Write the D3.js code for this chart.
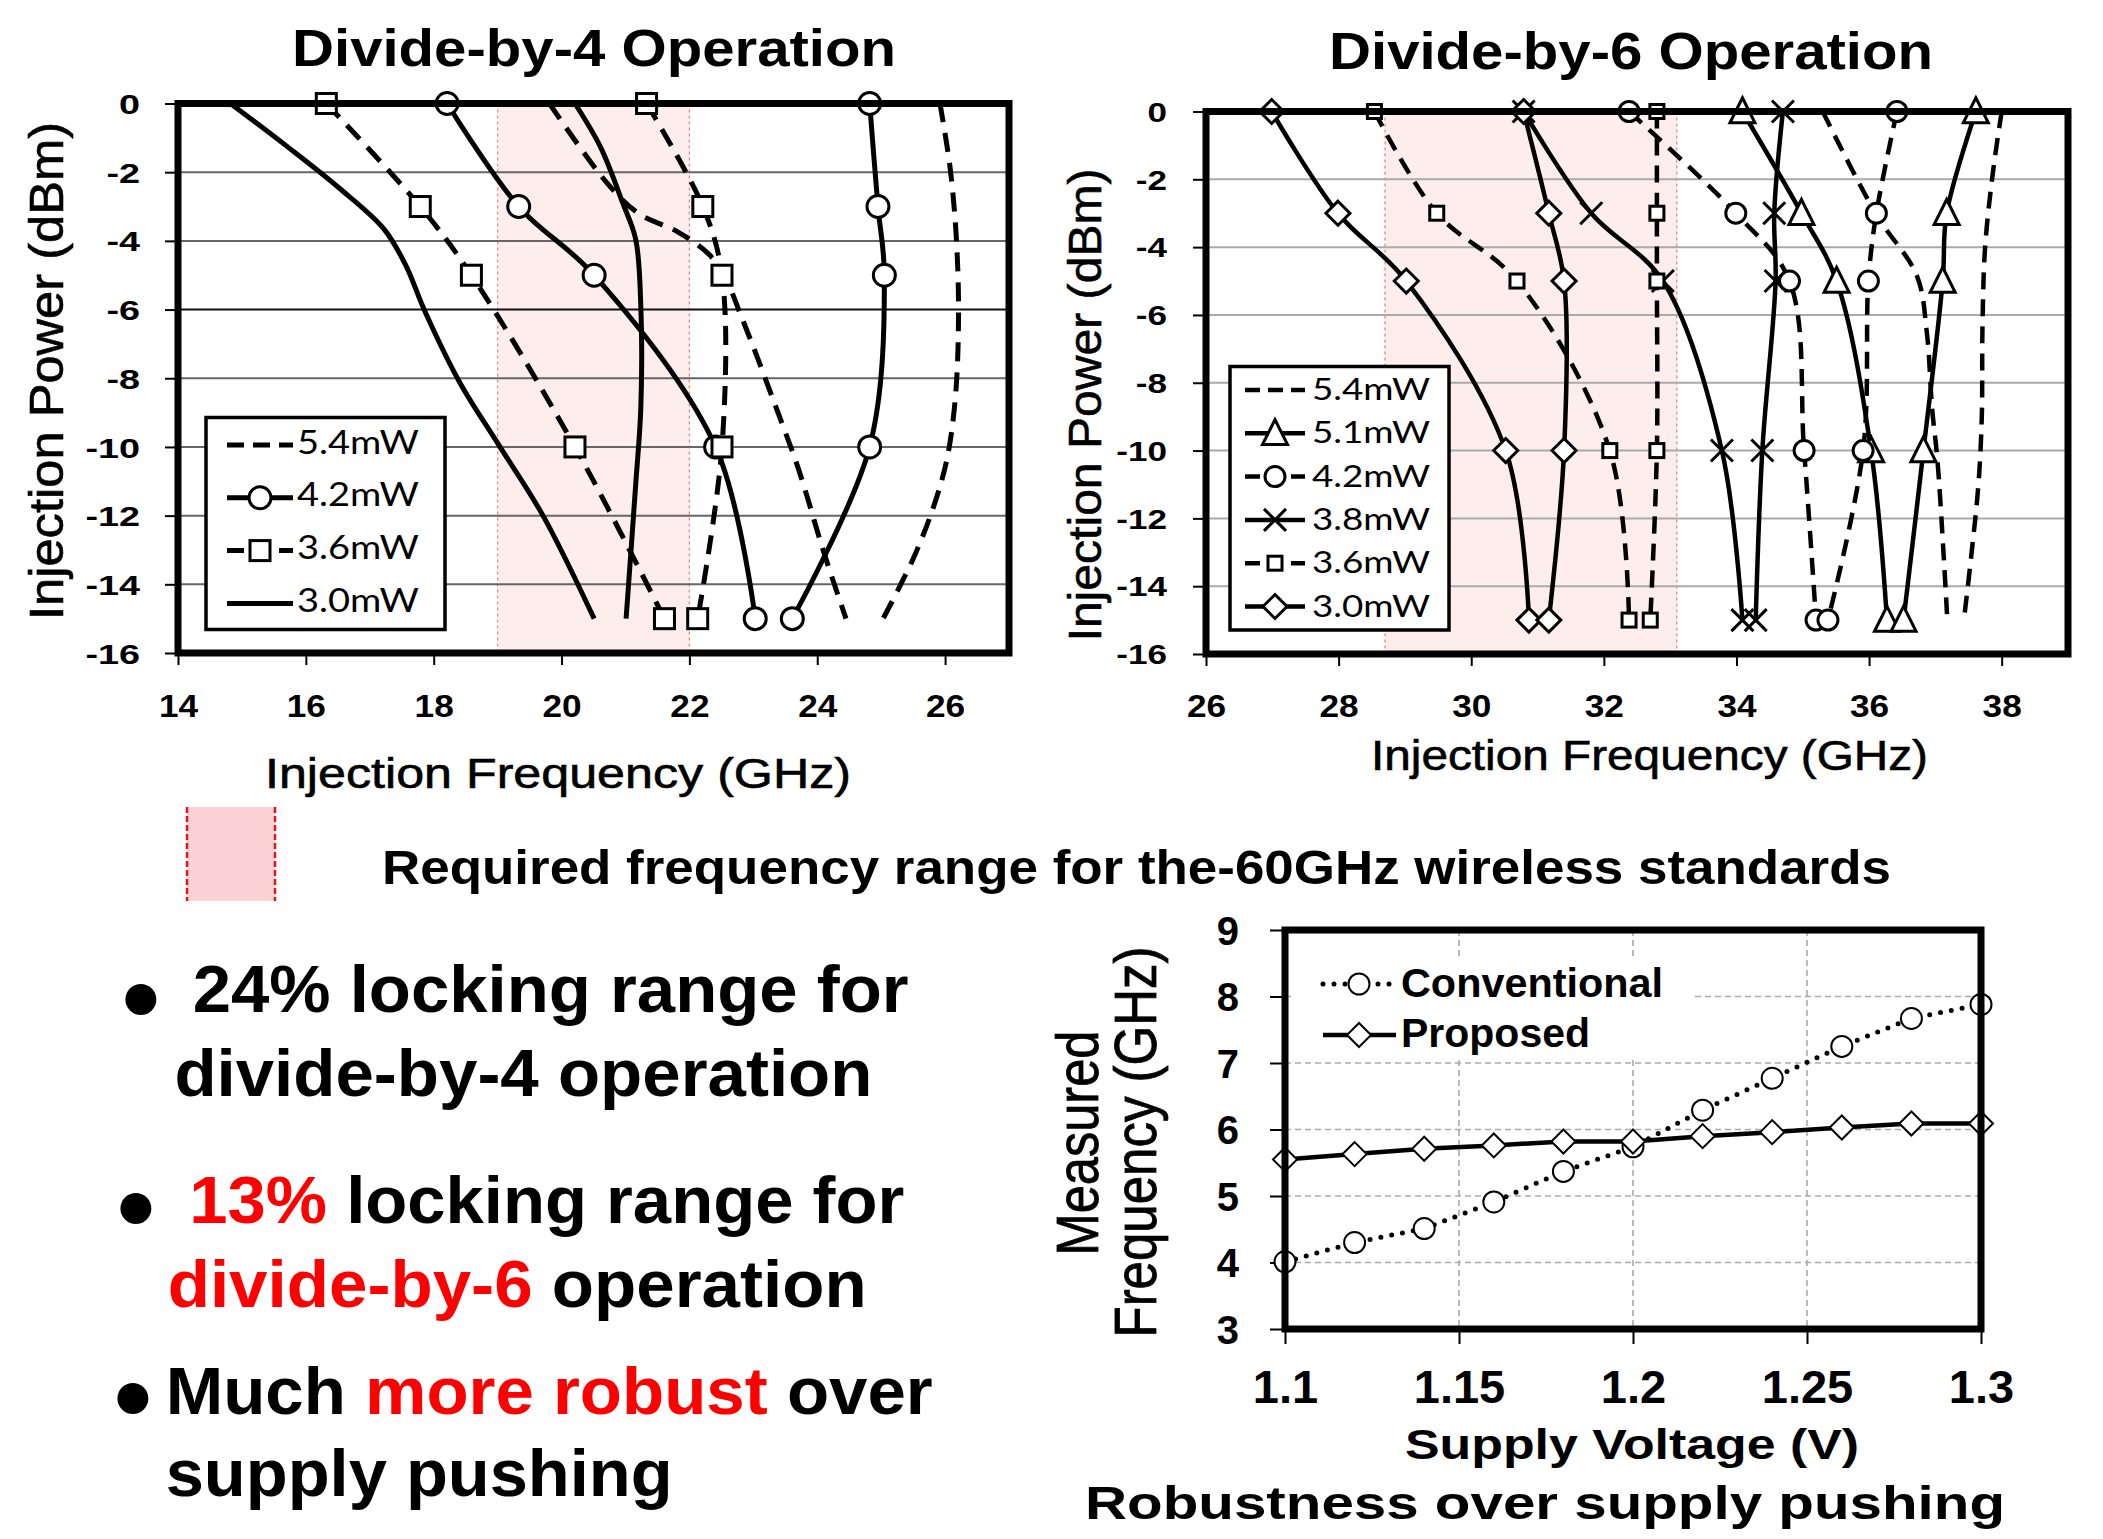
<!DOCTYPE html>
<html><head><meta charset="utf-8">
<script src="https://cdn.jsdelivr.net/npm/d3@7"></script>
<style>body{margin:0;background:#fff} svg{display:block}</style>
</head><body>
<script>
// ================= DATA =================
const powerTicks = [0,-2,-4,-6,-8,-10,-12,-14,-16];
const markerPower = [0,-3,-5,-10,-15];
const div4FreqTicks = [14,16,18,20,22,24,26];
const div6FreqTicks = [26,28,30,32,34,36,38];
const div4Band = [19, 22];
const div6Band = [28.7, 33.1];

// Divide-by-4 (GHz vs dBm)
const d4_54_lowF  = [19.81,20.71,21.21,21.81,22.31,22.56,22.81,23.06,23.36,23.71,24.10,24.45];
const d4_54_lowP  = [0,-2.31,-3.21,-3.73,-4.40,-5.07,-6.19,-7.38,-8.87,-10.66,-13.05,-15];
const d4_54_highF = [25.92,26.08,26.18,26.21,26.16,26.03,25.82,25.50,25.03];
const d4_54_highP = [0,-1.89,-4.04,-6.31,-8.58,-10.35,-11.74,-13.26,-15];
const d4_42_lowF  = [18.21,19.33,20.51,22.41,23.03];
const d4_42_highF = [24.82,24.95,25.05,24.82,23.61];
const d4_36_lowF  = [16.32,17.79,18.59,20.21,21.61];
const d4_36_highF = [21.33,22.21,22.51,22.51,22.13];
const d4_30_lowF  = [14.82,15.72,16.52,17.22,17.56,17.86,18.41,19.01,19.71,20.51];
const d4_30_lowP  = [0,-1.27,-2.46,-3.65,-4.70,-6.04,-8.13,-9.92,-12.0,-15];
const d4_30_highF = [20.21,20.61,20.96,21.16,21.24,21.24,21.16,21.01];
const d4_30_highP = [0,-1.27,-2.91,-3.95,-5.89,-8.87,-11.1,-15];

// Divide-by-6 (GHz vs dBm)
const d6_54_lowF  = [35.30,36.11,36.72,36.87,36.95,37.03,37.13,37.18];
const d6_54_lowP  = [0,-3.04,-4.84,-6.50,-8.75,-10.26,-13.26,-15];
const d6_54_highF = [38.0,37.87,37.75,37.71,37.70,37.65,37.55,37.43];
const d6_54_highP = [0,-1.76,-4.0,-6.37,-9.0,-10.98,-12.95,-15];
const d6_51_lowF  = [34.09,34.98,35.51,36.03,36.27];
const d6_51_highF = [37.61,37.17,37.11,36.82,36.52];
const d6_42_lowF  = [32.38,33.99,34.80,35.02,35.20];
const d6_42_highF = [36.42,36.11,35.99,35.91,35.38];
const d6_38_lowF  = [30.79,31.81,32.89,33.78,34.09];
const d6_38_highF = [34.70,34.57,34.59,34.39,34.29];
const d6_36_lowF  = [28.54,29.48,30.69,32.09,32.38];
const d6_36_highF = [32.80,32.80,32.80,32.80,32.70];
const d6_30_lowF  = [26.99,27.99,29.02,30.52,30.87];
const d6_30_highF = [30.79,31.17,31.40,31.40,31.17];

// Supply pushing
const supplyV   = [1.10,1.12,1.14,1.16,1.18,1.20,1.22,1.24,1.26,1.28,1.30];
const convFreq  = [4.01,4.30,4.51,4.91,5.37,5.74,6.29,6.77,7.25,7.67,7.88];
const propFreq  = [5.55,5.63,5.71,5.76,5.82,5.82,5.90,5.96,6.03,6.09,6.09];
const voltTicks = [1.1,1.15,1.2,1.25,1.3];
const measTicks = [3,4,5,6,7,8,9];

// ================= DRAW =================
const FONT = "'Liberation Sans', Arial, Helvetica, sans-serif";
const LFONT = "Lato, 'Open Sans', sans-serif";
const zip = (a,b) => a.map((v,i)=>[v,b[i]]);
const svg = d3.select("body").append("svg").attr("width",2103).attr("height",1539);
svg.append("rect").attr("width",2103).attr("height",1539).attr("fill","#fff");

function marker(g, type, cx, cy, s, sw) {
  const st = el => el.attr("fill","#fff").attr("stroke","#000").attr("stroke-width",sw);
  if (type==="circle") st(g.append("circle").attr("cx",cx).attr("cy",cy).attr("r",s/2));
  else if (type==="square") st(g.append("rect").attr("x",cx-s/2).attr("y",cy-s/2).attr("width",s).attr("height",s));
  else if (type==="triangle") st(g.append("path").attr("d",`M${cx},${cy-s*0.55}L${cx+s/2},${cy+s*0.45}L${cx-s/2},${cy+s*0.45}Z`));
  else if (type==="diamond") st(g.append("path").attr("d",`M${cx},${cy-s/2}L${cx+s/2},${cy}L${cx},${cy+s/2}L${cx-s/2},${cy}Z`));
  else if (type==="cross") g.append("path").attr("d",`M${cx-s/2},${cy-s/2}L${cx+s/2},${cy+s/2}M${cx+s/2},${cy-s/2}L${cx-s/2},${cy+s/2}`)
      .attr("stroke","#000").attr("stroke-width",sw).attr("fill","none");
}

function injChart(c) {
  const g = svg.append("g");
  const x = d3.scaleLinear().domain(c.xDomain).range([c.left, c.right]);
  const y = d3.scaleLinear().domain([-16,0]).range([c.bottom, c.top]);
  // band
  g.append("rect").attr("x",x(c.band[0])).attr("y",c.top).attr("width",x(c.band[1])-x(c.band[0]))
    .attr("height",c.bottom-c.top).attr("fill","#fdeded");
  c.band.forEach(b => g.append("line").attr("x1",x(b)).attr("x2",x(b)).attr("y1",c.top).attr("y2",c.bottom)
    .attr("stroke","#f08585").attr("stroke-width",1.3).attr("stroke-dasharray","3,3"));
  // grid
  g.selectAll("line.grid").data(powerTicks.filter(t=>t>-16&&t<0)).join("line").attr("class","grid")
    .attr("x1",c.left).attr("x2",c.right).attr("y1",d=>y(d)).attr("y2",d=>y(d))
    .attr("stroke",d=>c.gridColor(d)).attr("stroke-width",2);
  // axes
  const ay = g.append("g").attr("transform",`translate(${c.left},0)`)
    .call(d3.axisLeft(y).tickValues(powerTicks).tickSize(13).tickFormat(d=>String(d)));
  const ax = g.append("g").attr("transform",`translate(0,${c.bottom})`)
    .call(d3.axisBottom(x).tickValues(c.xTicks).tickSize(12).tickFormat(d=>String(d)));
  [ay,ax].forEach(a=>{ a.select(".domain").remove(); a.selectAll("line").attr("stroke","#000").attr("stroke-width",2); });
  ay.selectAll("text").attr("font-family",FONT).attr("font-weight","bold").attr("font-size",c.yLabFont)
    .attr("fill","#000").attr("x",-c.yLabGap/c.yLabScale).attr("dy","0.36em").attr("transform",`scale(${c.yLabScale},1)`);
  ax.selectAll("text").attr("font-family",FONT).attr("font-weight","bold").attr("font-size",32)
    .attr("fill","#000").attr("dy",null).attr("y",c.xLabY).attr("transform","scale(1.1,1)");
  // series
  const line = d3.line().x(d=>x(d[0])).y(d=>y(d[1])).curve(d3.curveCatmullRom.alpha(0.5));
  c.series.forEach(s=>{
    s.branches.forEach(br=>{
      g.append("path").attr("d",line(br)).attr("fill","none").attr("stroke","#000")
        .attr("stroke-width",c.lw).attr("stroke-dasharray",s.dash?c.dash:null);
    });
  });
  c.series.forEach(s=>{
    if (!s.marker) return;
    s.branches.forEach(br=>br.forEach(p=>marker(g,s.marker,x(p[0]),y(p[1]),c.msize[s.marker],3)));
  });
  // border
  g.append("rect").attr("x",c.left).attr("y",c.top).attr("width",c.right-c.left).attr("height",c.bottom-c.top)
    .attr("fill","none").attr("stroke","#000").attr("stroke-width",7);
  // titles
  g.append("text").attr("x",c.titleX).attr("y",c.titleY).attr("font-family",FONT).attr("font-weight","bold")
    .attr("font-size",52).attr("textLength",c.titleW).attr("lengthAdjust","spacingAndGlyphs").text(c.title);
  g.append("text").attr("x",c.xtX).attr("y",c.xtY).attr("font-family",FONT).attr("font-size",42)
    .attr("stroke","#000").attr("stroke-width",0.6)
    .attr("textLength",c.xtW).attr("lengthAdjust","spacingAndGlyphs").text("Injection Frequency (GHz)");
  g.append("text").attr("transform",`translate(${c.ytX},${c.ytY}) rotate(-90)`).attr("text-anchor","middle")
    .attr("font-family",FONT).attr("font-size",c.ytFont).attr("stroke","#000").attr("stroke-width",0.6)
    .attr("textLength",c.ytW).attr("lengthAdjust","spacingAndGlyphs").text("Injection Power (dBm)");
  // legend
  const L = c.legend;
  g.append("rect").attr("x",L.x).attr("y",L.y).attr("width",L.w).attr("height",L.h)
    .attr("fill","#fff").attr("stroke","#000").attr("stroke-width",3.5);
  c.legendOrder.forEach((name,i)=>{
    const s = c.series.find(d=>d.name===name);
    const ly = L.rowY0 + i*L.rowDy;
    g.append("line").attr("x1",L.lx0).attr("x2",L.lx1).attr("y1",ly).attr("y2",ly).attr("stroke","#000")
      .attr("stroke-width",c.lw).attr("stroke-dasharray",s.dash?L.dash:null);
    if (s.marker) marker(g,s.marker,(L.lx0+L.lx1)/2,ly,c.msize[s.marker],3);
    g.append("text").attr("x",L.tx).attr("y",ly+L.tdy).attr("font-family",LFONT).attr("font-size",L.font)
      .attr("textLength",L.tw).attr("lengthAdjust","spacingAndGlyphs").text(name);
  });
}

injChart({
  xDomain:[14,27], left:178, right:1009, top:103.5, bottom:653, band:div4Band, xTicks:div4FreqTicks,
  gridColor:d=> d===-6 ? "#111" : "#666", yLabGap:38, yLabFont:28, yLabScale:1.35, xLabY:64, lw:5, dash:"19,11",
  msize:{circle:22, square:20},
  series:[
    {name:"5.4mW", dash:true, marker:null, branches:[zip(d4_54_lowF,d4_54_lowP), zip(d4_54_highF,d4_54_highP)]},
    {name:"4.2mW", dash:false, marker:"circle", branches:[zip(d4_42_lowF,markerPower), zip(d4_42_highF,markerPower)]},
    {name:"3.6mW", dash:true, marker:"square", branches:[zip(d4_36_lowF,markerPower), zip(d4_36_highF,markerPower)]},
    {name:"3.0mW", dash:false, marker:null, branches:[zip(d4_30_lowF,d4_30_lowP), zip(d4_30_highF,d4_30_highP)]}
  ],
  legendOrder:["5.4mW","4.2mW","3.6mW","3.0mW"],
  legend:{x:206,y:417.5,w:239,h:212,rowY0:445,rowDy:52.8,lx0:227,lx1:293,tx:297,tdy:8.5,font:33,tw:122,dash:"17,9"},
  title:"Divide-by-4 Operation", titleX:292, titleY:66, titleW:604,
  xtX:265, xtY:788, xtW:586, ytX:63, ytY:371, ytW:498, ytFont:48
});

injChart({
  xDomain:[26,39], left:1206, right:2068, top:111.5, bottom:654, band:div6Band, xTicks:div6FreqTicks,
  gridColor:d=>"#aaa", yLabGap:39, yLabFont:27, yLabScale:1.3, xLabY:63, lw:4.5, dash:"17,10",
  msize:{circle:20, square:14, triangle:25, diamond:24, cross:22},
  series:[
    {name:"5.4mW", dash:true, marker:null, branches:[zip(d6_54_lowF,d6_54_lowP), zip(d6_54_highF,d6_54_highP)]},
    {name:"5.1mW", dash:false, marker:"triangle", branches:[zip(d6_51_lowF,markerPower), zip(d6_51_highF,markerPower)]},
    {name:"4.2mW", dash:true, marker:"circle", branches:[zip(d6_42_lowF,markerPower), zip(d6_42_highF,markerPower)]},
    {name:"3.8mW", dash:false, marker:"cross", branches:[zip(d6_38_lowF,markerPower), zip(d6_38_highF,markerPower)]},
    {name:"3.6mW", dash:true, marker:"square", branches:[zip(d6_36_lowF,markerPower), zip(d6_36_highF,markerPower)]},
    {name:"3.0mW", dash:false, marker:"diamond", branches:[zip(d6_30_lowF,markerPower), zip(d6_30_highF,markerPower)]}
  ],
  legendOrder:["5.4mW","5.1mW","4.2mW","3.8mW","3.6mW","3.0mW"],
  legend:{x:1230,y:366.5,w:219,h:263.5,rowY0:390,rowDy:43.3,lx0:1245,lx1:1305,tx:1312,tdy:10,font:30,tw:118,dash:"15,8"},
  title:"Divide-by-6 Operation", titleX:1329, titleY:69, titleW:604,
  xtX:1371, xtY:770, xtW:557, ytX:1101, ytY:405, ytW:473, ytFont:46
});

// ---------- Supply pushing chart ----------
(function(){
  const g = svg.append("g");
  const L=1285, R=1981, T=930, B=1329;
  const x = d3.scaleLinear().domain([1.1,1.3]).range([L,R]);
  const y = d3.scaleLinear().domain([3,9]).range([B,T]);
  g.selectAll("line.hg").data(measTicks.slice(1,-1)).join("line").attr("class","hg")
    .attr("x1",L).attr("x2",R).attr("y1",d=>y(d)).attr("y2",d=>y(d))
    .attr("stroke","#aaa").attr("stroke-width",1.6).attr("stroke-dasharray","6,4");
  g.selectAll("line.vg").data(voltTicks.slice(1,-1)).join("line").attr("class","vg")
    .attr("y1",T).attr("y2",B).attr("x1",d=>x(d)).attr("x2",d=>x(d))
    .attr("stroke","#aaa").attr("stroke-width",1.6).attr("stroke-dasharray","6,4");
  const ay = g.append("g").attr("transform",`translate(${L},0)`)
    .call(d3.axisLeft(y).tickValues(measTicks).tickSize(15).tickFormat(d=>String(d)));
  const ax = g.append("g").attr("transform",`translate(0,${B})`)
    .call(d3.axisBottom(x).tickValues(voltTicks).tickSize(15).tickFormat(d=>String(d)));
  [ay,ax].forEach(a=>{ a.select(".domain").remove(); a.selectAll("line").attr("stroke","#000").attr("stroke-width",2); });
  ay.selectAll("text").attr("font-family",FONT).attr("font-weight","bold").attr("font-size",40)
    .attr("fill","#000").attr("x",-46).attr("dy","0.36em");
  ax.selectAll("text").attr("font-family",FONT).attr("font-weight","bold").attr("font-size",47)
    .attr("fill","#000").attr("dy",null).attr("y",74);
  // legend background
  g.append("rect").attr("x",1292).attr("y",957).attr("width",401).attr("height",101).attr("fill","#fff");
  const conv = zip(supplyV,convFreq), prop = zip(supplyV,propFreq);
  const line = d3.line().x(d=>x(d[0])).y(d=>y(d[1]));
  g.append("path").attr("d",line(conv)).attr("fill","none").attr("stroke","#000").attr("stroke-width",5)
    .attr("stroke-linecap","round").attr("stroke-dasharray","0,11");
  g.append("path").attr("d",line(prop)).attr("fill","none").attr("stroke","#000").attr("stroke-width",4.5);
  conv.forEach(p=>marker(g,"circle",x(p[0]),y(p[1]),21,2));
  prop.forEach(p=>marker(g,"diamond",x(p[0]),y(p[1]),24,2));
  g.append("rect").attr("x",L).attr("y",T).attr("width",R-L).attr("height",B-T)
    .attr("fill","none").attr("stroke","#000").attr("stroke-width",7);
  // legend entries
  g.append("line").attr("x1",1323).attr("x2",1396).attr("y1",984).attr("y2",984).attr("stroke","#000")
    .attr("stroke-width",5).attr("stroke-linecap","round").attr("stroke-dasharray","0,11");
  marker(g,"circle",1359,984,21,2);
  g.append("text").attr("x",1401).attr("y",997).attr("font-family",FONT).attr("font-weight","bold").attr("font-size",40)
    .attr("textLength",262).attr("lengthAdjust","spacingAndGlyphs").text("Conventional");
  g.append("line").attr("x1",1323).attr("x2",1396).attr("y1",1035).attr("y2",1035).attr("stroke","#000").attr("stroke-width",4.5);
  marker(g,"diamond",1359,1035,24,2);
  g.append("text").attr("x",1401).attr("y",1047).attr("font-family",FONT).attr("font-weight","bold").attr("font-size",40)
    .attr("textLength",189).attr("lengthAdjust","spacingAndGlyphs").text("Proposed");
  // axis titles
  g.append("text").attr("x",1405).attr("y",1459).attr("font-family",FONT).attr("font-weight","bold").attr("font-size",42)
    .attr("textLength",454).attr("lengthAdjust","spacingAndGlyphs").text("Supply Voltage (V)");
  g.append("text").attr("transform","translate(1098,1143) rotate(-90)").attr("text-anchor","middle")
    .attr("font-family",FONT).attr("font-size",60).attr("stroke","#000").attr("stroke-width",0.8)
    .attr("textLength",225).attr("lengthAdjust","spacingAndGlyphs").text("Measured");
  g.append("text").attr("transform","translate(1156,1142) rotate(-90)").attr("text-anchor","middle")
    .attr("font-family",FONT).attr("font-size",60).attr("stroke","#000").attr("stroke-width",0.8)
    .attr("textLength",391).attr("lengthAdjust","spacingAndGlyphs").text("Frequency (GHz)");
  g.append("text").attr("x",1085).attr("y",1519).attr("font-family",FONT).attr("font-weight","bold").attr("font-size",47)
    .attr("textLength",920).attr("lengthAdjust","spacingAndGlyphs").text("Robustness over supply pushing");
})();

// ---------- band legend and bullets ----------
svg.append("rect").attr("x",187).attr("y",807).attr("width",88).attr("height",94).attr("fill","#fdd2d4");
[187,275].forEach(xx=>svg.append("line").attr("x1",xx).attr("x2",xx).attr("y1",807).attr("y2",901)
  .attr("stroke","#e8141c").attr("stroke-width",2.5).attr("stroke-dasharray","6,3"));
svg.append("text").attr("x",382).attr("y",884).attr("font-family",FONT).attr("font-weight","bold").attr("font-size",48)
  .attr("textLength",1509).attr("lengthAdjust","spacingAndGlyphs").text("Required frequency range for the-60GHz wireless standards");

const bulletLines = [
  {x:192.7, y:1012, w:716, parts:[["24% locking range for","#000"]]},
  {x:174.4, y:1096, w:698, parts:[["divide-by-4 operation","#000"]]},
  {x:189.3, y:1223, w:715, parts:[["13%","#ff0000"],[" locking range for","#000"]]},
  {x:167.7, y:1307, w:699, parts:[["divide-by-6","#ff0000"],[" operation","#000"]]},
  {x:165.7, y:1414, w:767, parts:[["Much ","#000"],["more robust","#ff0000"],[" over","#000"]]},
  {x:165.7, y:1496, w:507, parts:[["supply pushing","#000"]]}
];
bulletLines.forEach(b=>{
  const t = svg.append("text").attr("x",b.x).attr("y",b.y).attr("font-family",FONT).attr("font-weight","bold")
    .attr("font-size",66).attr("textLength",b.w).attr("lengthAdjust","spacingAndGlyphs").attr("xml:space","preserve")
    .style("white-space","pre");
  b.parts.forEach(p=>t.append("tspan").attr("fill",p[1]).text(p[0]));
});
[[140,995],[135,1203.5],[131.8,1393.7]].forEach(p=>svg.append("text").attr("x",p[0]+1).attr("y",p[1]+40)
  .attr("text-anchor","middle").attr("font-family",FONT).attr("font-weight","bold").attr("font-size",108).text("•"));
</script>
</body></html>
